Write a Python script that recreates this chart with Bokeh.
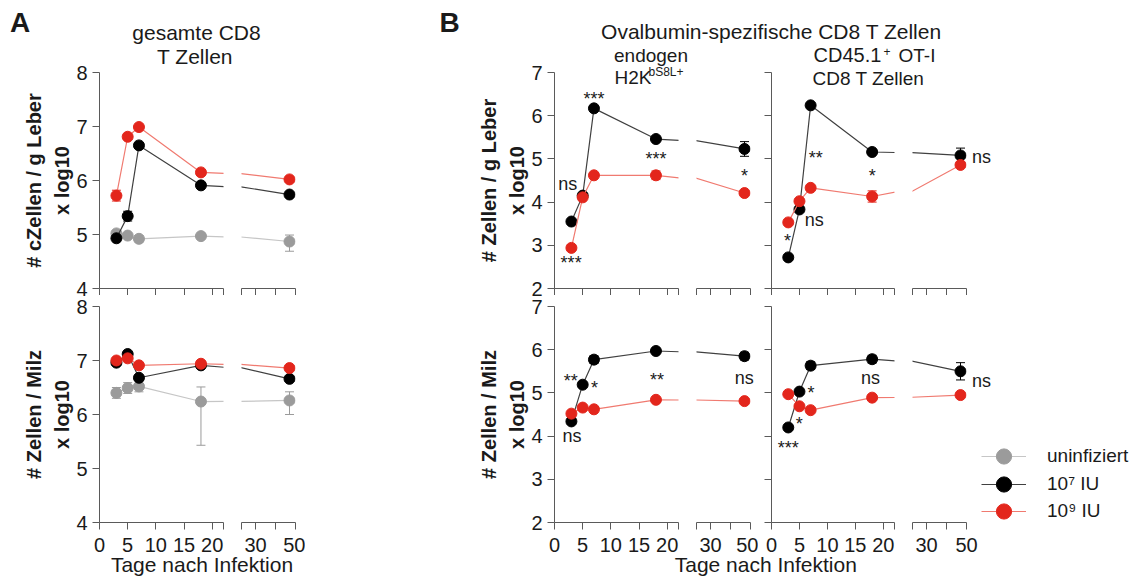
from bokeh.plotting import figure
from bokeh.models import Range1d, FixedTicker, Label, Legend, LegendItem, ColumnDataSource
from bokeh.layouts import row, column
from bokeh.embed import file_html
from bokeh.resources import INLINE

FONT = "Liberation Sans"
TXT = "#1a1a1a"
AXC = "#5a5a5a"

# ---------------- data ----------------
days = [3, 5, 7, 18, 47]
x_ticks_early = [0, 5, 10, 15, 20]
x_ticks_late = [30, 50]
x_minor_late = [40]
y_ticks_a = [4, 5, 6, 7, 8]
y_ticks_b = [2, 3, 4, 5, 6, 7]

# Panel A, liver (gesamte CD8 T Zellen)
a_liver_uninf = [5.02, 4.98, 4.92, 4.97, 4.87]
a_liver_uninf_lo = [0.05, 0.04, 0.06, 0.04, 0.18]
a_liver_uninf_hi = [0.05, 0.04, 0.06, 0.04, 0.12]
a_liver_e7 = [4.93, 5.34, 6.65, 5.91, 5.74]
a_liver_e7_err = [0.03, 0.09, 0.03, 0.04, 0.04]
a_liver_e9 = [5.72, 6.81, 6.99, 6.15, 6.02]
a_liver_e9_err = [0.10, 0.04, 0.03, 0.03, 0.03]

# Panel A, spleen
a_spleen_uninf = [6.40, 6.49, 6.52, 6.24, 6.26]
a_spleen_uninf_lo = [0.10, 0.10, 0.10, 0.81, 0.26]
a_spleen_uninf_hi = [0.10, 0.10, 0.10, 0.27, 0.16]
a_spleen_e7 = [6.96, 7.12, 6.68, 6.91, 6.66]
a_spleen_e7_err = [0.03, 0.03, 0.04, 0.03, 0.03]
a_spleen_e9 = [7.00, 7.04, 6.91, 6.94, 6.86]
a_spleen_e9_err = [0.03, 0.03, 0.03, 0.03, 0.03]

# Panel B, endogen H2Kb-S8L+, liver
bl_liver_e7 = [3.55, 4.15, 6.17, 5.46, 5.23]
bl_liver_e7_err = [0.03, 0.05, 0.03, 0.04, 0.17]
bl_liver_e9 = [2.94, 4.11, 4.62, 4.62, 4.21]
bl_liver_e9_err = [0.07, 0.05, 0.03, 0.10, 0.05]

# Panel B, CD45.1+ OT-I, liver
br_liver_e7 = [2.72, 3.83, 6.24, 5.16, 5.08]
br_liver_e7_err = [0.03, 0.03, 0.03, 0.05, 0.17]
br_liver_e9 = [3.53, 4.02, 4.33, 4.13, 4.86]
br_liver_e9_err = [0.03, 0.03, 0.03, 0.13, 0.03]

# Panel B, endogen, spleen
bl_spleen_e7 = [4.34, 5.19, 5.77, 5.97, 5.85]
bl_spleen_e7_err = [0.03, 0.05, 0.09, 0.04, 0.09]
bl_spleen_e9 = [4.52, 4.66, 4.62, 4.84, 4.81]
bl_spleen_e9_err = [0.03, 0.03, 0.03, 0.03, 0.03]

# Panel B, OT-I, spleen
br_spleen_e7 = [4.20, 5.03, 5.63, 5.78, 5.50]
br_spleen_e7_err = [0.03, 0.03, 0.09, 0.09, 0.20]
br_spleen_e9 = [4.97, 4.69, 4.60, 4.89, 4.95]
br_spleen_e9_err = [0.03, 0.03, 0.03, 0.03, 0.03]

# significance annotations: (text, day, value)
sig_bl_liver = [("***", 7.0, 6.45), ("ns", 2.35, 4.38), ("***", 2.95, 2.67),
                ("***", 18.0, 5.06), ("*", 47.0, 4.67)]
sig_br_liver = [("**", 7.9, 5.10), ("*", 18.0, 4.67), ("ns", 7.65, 3.56),
                ("*", 2.87, 3.16), ("ns", 57.5, 5.00)]
sig_bl_spleen = [("**", 2.9, 5.34), ("*", 7.1, 5.18), ("ns", 3.1, 3.97),
                 ("**", 18.2, 5.36), ("ns", 46.9, 5.32)]
sig_br_spleen = [("*", 7.05, 5.06), ("*", 4.96, 4.34), ("***", 2.98, 3.80),
                 ("ns", 17.7, 5.32), ("ns", 57.5, 5.24)]

series_names = ["uninfiziert", "10\u2077 IU", "10\u2079 IU"]

STYLE = {
    "uninf": dict(marker="#9b9b9b", line="#c6c6c6"),
    "e7": dict(marker="#000000", line="#404040"),
    "e9": dict(marker="#e3261c", line="#f07a70"),
}

panel_series = {
    ("A", 0): [("uninf", a_liver_uninf, a_liver_uninf_lo, a_liver_uninf_hi),
               ("e7", a_liver_e7, a_liver_e7_err, a_liver_e7_err),
               ("e9", a_liver_e9, a_liver_e9_err, a_liver_e9_err)],
    ("A", 1): [("uninf", a_spleen_uninf, a_spleen_uninf_lo, a_spleen_uninf_hi),
               ("e7", a_spleen_e7, a_spleen_e7_err, a_spleen_e7_err),
               ("e9", a_spleen_e9, a_spleen_e9_err, a_spleen_e9_err)],
    ("BL", 0): [("e7", bl_liver_e7, bl_liver_e7_err, bl_liver_e7_err),
                ("e9", bl_liver_e9, bl_liver_e9_err, bl_liver_e9_err)],
    ("BL", 1): [("e7", bl_spleen_e7, bl_spleen_e7_err, bl_spleen_e7_err),
                ("e9", bl_spleen_e9, bl_spleen_e9_err, bl_spleen_e9_err)],
    ("BR", 0): [("e7", br_liver_e7, br_liver_e7_err, br_liver_e7_err),
                ("e9", br_liver_e9, br_liver_e9_err, br_liver_e9_err)],
    ("BR", 1): [("e7", br_spleen_e7, br_spleen_e7_err, br_spleen_e7_err),
                ("e9", br_spleen_e9, br_spleen_e9_err, br_spleen_e9_err)],
}
panel_sig = {("BL", 0): sig_bl_liver, ("BR", 0): sig_br_liver,
             ("BL", 1): sig_bl_spleen, ("BR", 1): sig_br_spleen}

y_labels = {
    ("A", 0): "# cZellen / g Leber\nx log10",
    ("A", 1): "# Zellen / Milz\nx log10",
    ("BL", 0): "# Zellen / g Leber\nx log10",
    ("BL", 1): "# Zellen / Milz\nx log10",
}

# ---------------- layout geometry ----------------
W, H = 1133, 577
# (panel, segment, border_left, frame_width, border_right, y-axis mode)
col_specs = [
    ("A", 0, 99, 124, 9, "label"),
    ("A", 1, 9, 54, 10, None),
    ("BL", 0, 249, 124, 9, "label"),
    ("BL", 1, 9, 54, 8, None),
    ("BR", 0, 13, 123, 9, "ticks"),
    ("BR", 1, 9, 54, 167, None),
]
# (border_top, frame_height, border_bottom)
row_specs = [(72, 216, 7), (11, 216, 55)]
x_ranges = [(0, 22), (23, 50)]
TICK_OUT = 7
Y_STANDOFF = 5


def style_ticks(ax):
    ax.axis_line_color = AXC
    ax.major_tick_line_color = AXC
    ax.minor_tick_line_color = AXC
    ax.major_tick_out = TICK_OUT
    ax.major_tick_in = 0
    ax.minor_tick_out = TICK_OUT
    ax.minor_tick_in = 0
    ax.major_label_text_font = FONT
    ax.major_label_text_color = TXT
    ax.major_label_text_font_size = "20px"


infos = {}
edge_labels = []   # y tick labels at the lower frame edge of the upper panels
cx = 0
for ci, (panel, seg, bl, fw, br, ymode) in enumerate(col_specs):
    cy = 0
    for ri, (bt, fh, bb) in enumerate(row_specs):
        yr = (4, 8) if panel == "A" else (2, 7)
        xr = x_ranges[seg]
        w = bl + fw + br
        h = bt + fh + bb
        p = figure(width=w, height=h, x_range=Range1d(*xr), y_range=Range1d(*yr),
                   output_backend="svg", toolbar_location=None,
                   min_border_left=bl, min_border_right=br,
                   min_border_top=bt, min_border_bottom=bb,
                   x_axis_location="below",
                   y_axis_location="left" if ymode else None)
        p.outline_line_color = None
        p.grid.visible = False

        xa = p.xaxis[0]
        style_ticks(xa)
        if ri == 0:
            minor = (x_ticks_early + [xr[1]]) if seg == 0 else ([xr[0]] + x_ticks_late + x_minor_late)
            xa.ticker = FixedTicker(ticks=[], minor_ticks=minor)
            xa.major_label_standoff = 0
        else:
            if seg == 0:
                xa.ticker = FixedTicker(ticks=x_ticks_early, minor_ticks=[xr[1]])
            else:
                xa.ticker = FixedTicker(ticks=x_ticks_late, minor_ticks=[xr[0]] + x_minor_late)
            xa.major_label_standoff = 8

        info = dict(fig=p, fl=cx + bl, fw=fw, ft=cy + bt, fh=fh, xr=xr, yr=yr)

        if ymode:
            ya = p.yaxis[0]
            style_ticks(ya)
            yt = y_ticks_a if panel == "A" else y_ticks_b
            if ymode == "label":
                if ri == 0:
                    # lowest tick label is drawn on the overlay so it is not cut
                    ya.ticker = FixedTicker(ticks=yt[1:], minor_ticks=[yt[0]])
                    edge_labels.append((info, yt[0]))
                else:
                    ya.ticker = FixedTicker(ticks=yt)
                ya.major_label_standoff = Y_STANDOFF
                ya.axis_label = y_labels[(panel, ri)]
                ya.axis_label_text_font = FONT
                ya.axis_label_text_font_size = "20px"
                ya.axis_label_text_font_style = "bold"
                ya.axis_label_text_color = TXT
                ya.axis_label_text_line_height = 1.3
                ya.axis_label_standoff = 0
            else:
                ya.ticker = FixedTicker(ticks=[], minor_ticks=yt)

        for key, vals, lo, hi in panel_series[(panel, ri)]:
            st = STYLE[key]
            src = ColumnDataSource(dict(
                x=days, y=vals,
                lower=[v - e for v, e in zip(vals, lo)],
                upper=[v + e for v, e in zip(vals, hi)]))
            p.segment(x0="x", y0="lower", x1="x", y1="upper", source=src,
                      line_color=st["marker"], line_width=1)
            p.scatter(x="x", y="upper", source=src, marker="dash", size=9,
                      line_color=st["marker"], line_width=1)
            p.scatter(x="x", y="lower", source=src, marker="dash", size=9,
                      line_color=st["marker"], line_width=1)
            p.line(x="x", y="y", source=src, line_color=st["line"], line_width=1.2)
            p.scatter(x="x", y="y", source=src, size=11, marker="circle",
                      fill_color=st["marker"], line_color=st["marker"], line_width=1)

        infos[(ci, ri)] = info
        cy += h
    cx += bl + fw + br

# ---------------- transparent overlay for all free texts ----------------
ov = figure(width=W, height=H, x_range=Range1d(0, W), y_range=Range1d(H, 0),
            output_backend="svg", toolbar_location=None, min_border=0,
            x_axis_location=None, y_axis_location=None)
ov.outline_line_color = None
ov.grid.visible = False
ov.background_fill_alpha = 0
ov.border_fill_alpha = 0
ov.margin = (-H, 0, 0, 0)


def text(t, px, py, size, align="left", style="normal"):
    # py is the vertical centre of the text line
    ov.add_layout(Label(x=px, y=py, text=t, text_align=align, text_baseline="middle",
                        text_font=FONT, text_font_size=f"{size}px",
                        text_font_style=style, text_color=TXT))


def to_page(info, xd, yd):
    x0, x1 = info["xr"]
    y0, y1 = info["yr"]
    px = info["fl"] + (xd - x0) * info["fw"] / (x1 - x0)
    py = info["ft"] + info["fh"] - (yd - y0) * info["fh"] / (y1 - y0)
    return px, py


# lowest y tick labels of the upper panels
for info, tv in edge_labels:
    px, py = to_page(info, info["xr"][0], tv)
    text(str(tv), px - TICK_OUT - Y_STANDOFF, py, 20, "right")

# headers
text("A", 9.5, 22.0, 28, style="bold")
text("gesamte CD8", 196, 32.0, 21, "center")
text("T Zellen", 194.5, 56.0, 21, "center")
text("B", 439, 22.0, 28, style="bold")
text("Ovalbumin-spezifische CD8 T Zellen", 771, 31.2, 21, "center")
text("endogen", 650.5, 55.0, 19, "center")
text("H2K", 614, 76.6, 19)
text("bS8L+", 648, 71.5, 12)
text("CD45.1", 813, 54.8, 20)
text("+", 883, 50.5, 12)
text("OT-I", 898, 55.0, 19)
text("CD8 T Zellen", 868, 78.3, 19, "center")
# x-axis titles
text("Tage nach Infektion", 201.5, 564.3, 21, "center")
text("Tage nach Infektion", 765.3, 564.3, 21, "center")

# significance marks, placed at data positions of their panel
for (panel, ri), marks in panel_sig.items():
    for t, xv, yv in marks:
        seg = 0 if xv <= 22 else 1
        ci = [i for i, c in enumerate(col_specs) if c[0] == panel and c[1] == seg][0]
        px, py = to_page(infos[(ci, ri)], xv, yv)
        py += 3.0 if "*" in t else -1.5
        text(t, px, py, 18, "center")

# legend: one single-row legend per series (renderers sit on an off-screen range,
# so only their legend glyphs are visible)
ov.extra_y_ranges = {"hidden": Range1d(100, 101)}
legend_rows_y = [456, 483.5, 510.5]
for name, (key, vals, lo, hi), cy_row in zip(series_names, panel_series[("A", 1)], legend_rows_y):
    st = STYLE[key]
    src = ColumnDataSource(dict(x=days, y=vals))
    ln = ov.line(x="x", y="y", source=src, line_color=st["line"], line_width=1.2,
                 y_range_name="hidden")
    sc = ov.scatter(x="x", y="y", source=src, size=11, fill_color=st["marker"],
                    line_color=st["marker"], y_range_name="hidden")
    leg = Legend(items=[LegendItem(label=name, renderers=[ln, sc])],
                 location=(981, H - cy_row - 19), orientation="vertical",
                 glyph_width=45, glyph_height=38, label_height=20, spacing=0,
                 padding=0, margin=0, label_standoff=21, label_text_font=FONT,
                 label_text_font_size="19px", label_text_color=TXT,
                 background_fill_alpha=0, border_line_color=None)
    ov.add_layout(leg)

cols = [column(infos[(ci, 0)]["fig"], infos[(ci, 1)]["fig"]) for ci in range(len(col_specs))]
root = column(row(*cols), ov)

open("out.html", "w").write(file_html(root, INLINE))
